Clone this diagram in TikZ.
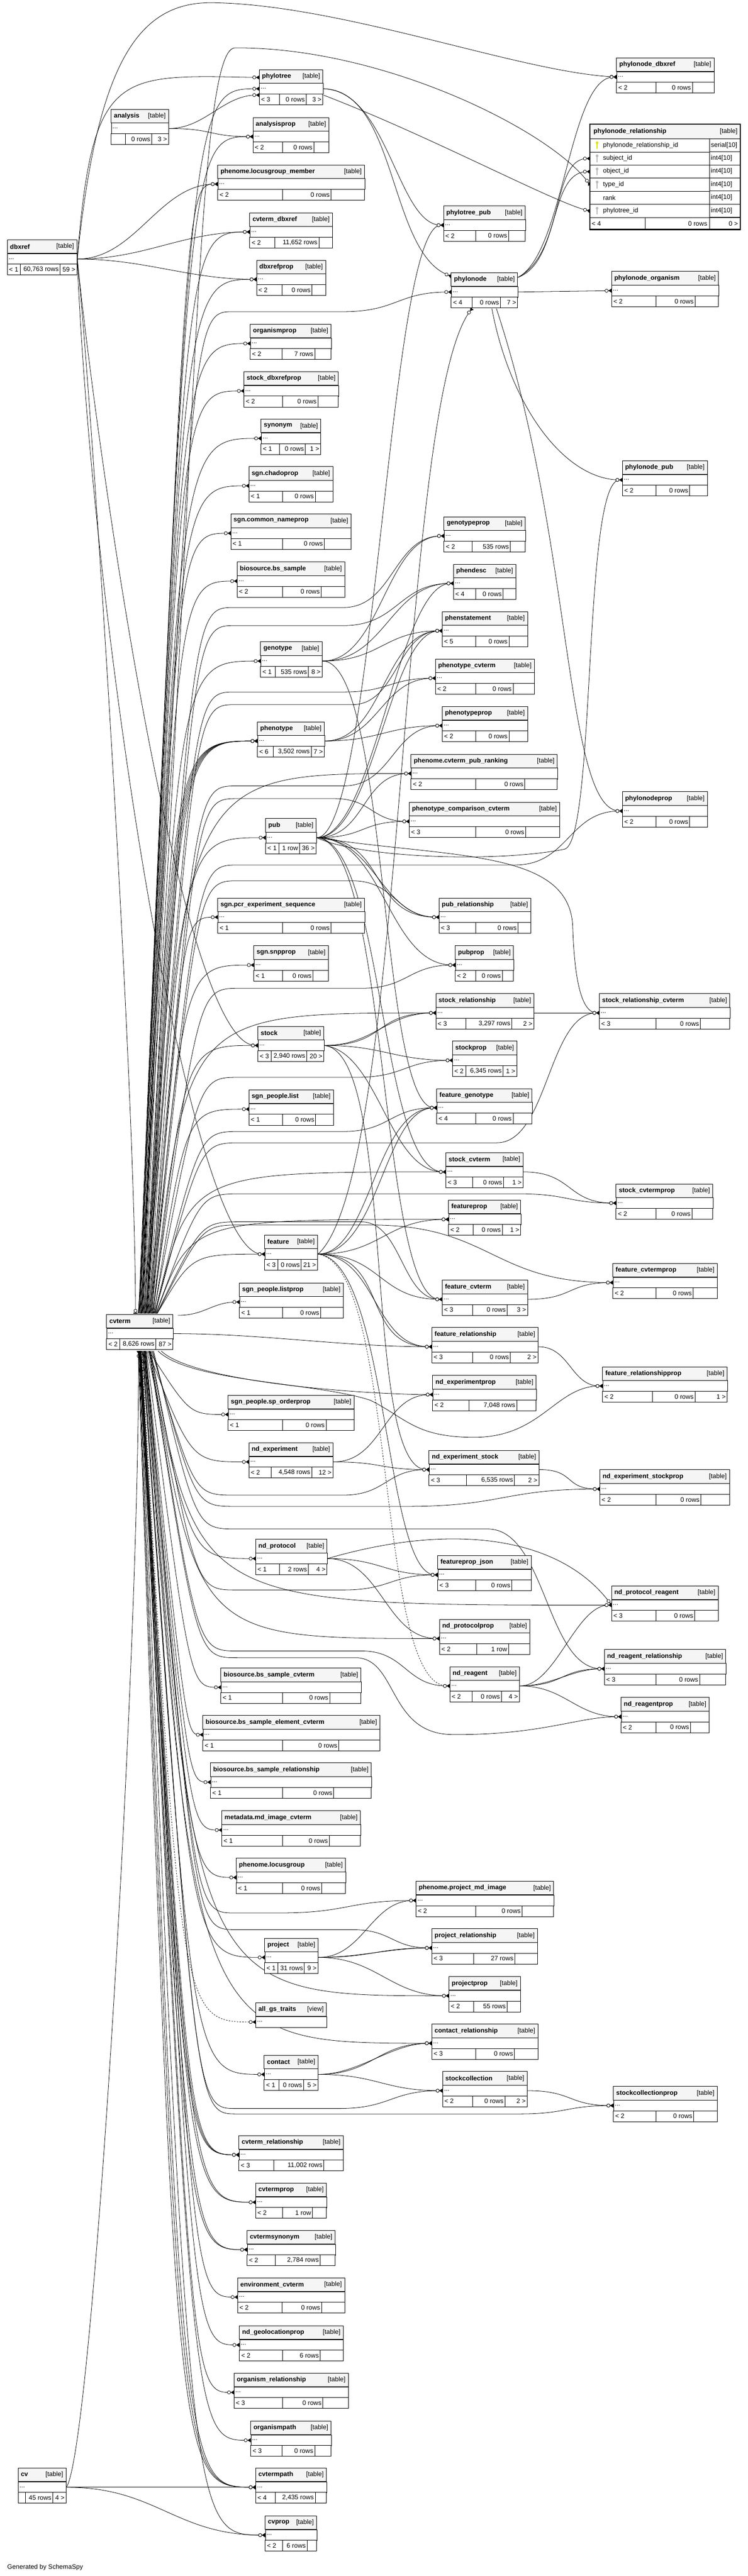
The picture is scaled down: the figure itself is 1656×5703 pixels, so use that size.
\documentclass[tikz,border=0pt]{standalone}
\usepackage{fontspec}
\setmainfont{Liberation Sans}
\usetikzlibrary{calc, arrows.meta}
\pgfdeclarelayer{bg}
\pgfsetlayers{bg,main}
\definecolor{hdrgrey}{RGB}{245,245,245}
\definecolor{pkkey}{RGB}{225,225,0}
\definecolor{fkkey}{RGB}{185,185,185}

% a table: [tag]{name}{title}{x1}{y1}{x2}, then its footer
\newcommand{\tbl}[6][table]{%
  \def\tblx{#4}\def\tbly{#5}\def\tblw{#6}%
  \draw[tblhdr] (#4,#5) rectangle (#6,#5+30);
  \node[tbltitle, anchor=west] at (#4+6,#5+15) {#3};
  \node[tbltext, anchor=east] at (#6-6,#5+15) {[#1]};
  \node[tblrow, minimum width={#6-#4}, anchor=north west] (#2) at (#4,#5+30) {};
  \node[tbltext, anchor=west] at (#4+3,#5+42) {...};
}
\newcommand{\tblfoot}[5]{%
  \draw[tblcell, fill=white] (\tblx,\tbly+54) rectangle (\tblw,\tbly+78);
  \draw[tblcell] (#1,\tbly+54) -- (#1,\tbly+78) (#2,\tbly+54) -- (#2,\tbly+78);
  \node[tbltext, anchor=west] at (\tblx+4,\tbly+66) {#3};
  \node[tbltext, anchor=east] at (#2-3,\tbly+66) {#4};
  \node[tbltext, anchor=east] at (\tblw-3,\tbly+66) {#5};
}
% cvterm edges: [opts]{base}{dx}{bundle x}{target}
\newcommand{\fkfan}[5][]{%
  \draw[fk,#1] ($(#2)+(#3,0)$) .. controls (#4,0 |- #5.west) and (#4,0 |- #5.west) .. (#5.west);}
% [opts]{base}{dx}{bundle x}{lane y}{s-bend x}{target}
\newcommand{\fklane}[7][]{%
  \draw[fk,#1] ($(#2)+(#3,0)$) .. controls (#4,#5) and (#4,#5) .. (#4+90,#5) -- (#6,#5)
    .. controls ($(#6,#5)!0.5!(#7.west |- 0,#5)$) and ($(#6,0 |- #7.west)!0.5!(#7.west)$) .. (#7.west);}

\begin{document}
\begin{tikzpicture}[x=1pt, y=-1pt,
  tblhdr/.style={draw, fill=hdrgrey, line width=1pt},
  tblrow/.style={draw, fill=white, line width=1pt, inner sep=0pt, minimum height=24pt},
  tblcell/.style={draw, line width=1pt},
  tbltitle/.style={font=\fontsize{14.3}{17}\selectfont\bfseries, inner sep=0pt},
  tbltext/.style={font=\fontsize{14.3}{17}\selectfont, inner sep=0pt},
  fk/.style={line width=0.9pt, -{Circle[fill=white,length=8pt,width=8pt,line width=0.9pt]Triangle[reversed,length=7pt,width=9pt]}},
  fkone/.style={line width=0.9pt, -{Circle[fill=white,length=8pt,width=8pt,line width=0.9pt]Bar[width=10pt,line width=2pt]}},
  sbend/.style={to path={.. controls +(#1,0) and +(-#1,0) .. (\tikztotarget)}}, sbend/.default=120]

\useasboundingbox (0,0) rectangle (1656,5703);

% tables, top to bottom
\tbl{phylonode-dbxref}{phylonode\_dbxref}{1365}{128}{1581}
\tblfoot{1453}{1533}{< 2}{0 rows}{}
\tbl{phylotree}{phylotree}{574}{154}{715}
\tblfoot{619}{678}{< 3}{0 rows}{3 >}
\tbl{analysis}{analysis}{246}{242}{373}
\tblfoot{278}{336}{}{0 rows}{3 >}
\tbl{analysisprop}{analysisprop}{560}{260}{728}
\tblfoot{625}{695}{< 2}{0 rows}{}
\tbl{locusgroup-member}{phenome.locusgroup\_member}{482}{365}{807}
\tblfoot{625}{733}{< 2}{0 rows}{}
\tbl{cvterm-dbxref}{cvterm\_dbxref}{553}{471}{736}
\tblfoot{608}{706}{< 2}{11,652 rows}{}
\tbl{phylotree-pub}{phylotree\_pub}{982}{456}{1163}
\tblfoot{1053}{1126}{< 2}{0 rows}{}
\tbl{dbxref}{dbxref}{16}{531}{170}
\tblfoot{45}{133}{< 1}{60,763 rows}{59 >}
\tbl{dbxrefprop}{dbxrefprop}{568}{576}{721}
\tblfoot{624}{691}{< 2}{0 rows}{}
\tbl{phylonode}{phylonode}{999}{604}{1146}
\tblfoot{1045}{1108}{< 4}{0 rows}{7 >}
\tbl{phylonode-organism}{phylonode\_organism}{1354}{601}{1591}
\tblfoot{1453}{1539}{< 2}{0 rows}{}
\tbl{organismprop}{organismprop}{554}{718}{733}
\tblfoot{624}{697}{< 2}{7 rows}{}
\tbl{stock-dbxrefprop}{stock\_dbxrefprop}{540}{823}{749}
\tblfoot{625}{704}{< 2}{0 rows}{}
\tbl{synonym}{synonym}{578}{928}{710}
\tblfoot{619}{676}{< 1}{0 rows}{1 >}
\tbl{chadoprop}{sgn.chadoprop}{551}{1033}{737}
\tblfoot{625}{698}{< 1}{0 rows}{}
\tbl{phylonode-pub}{phylonode\_pub}{1378}{1020}{1566}
\tblfoot{1453}{1527}{< 2}{0 rows}{}
\tbl{common-nameprop}{sgn.common\_nameprop}{511}{1138}{777}
\tblfoot{625}{718}{< 1}{0 rows}{}
\tbl{genotypeprop}{genotypeprop}{983}{1144}{1163}
\tblfoot{1045}{1130}{< 2}{535 rows}{}
\tbl{bs-sample}{biosource.bs\_sample}{525}{1244}{763}
\tblfoot{625}{711}{< 2}{0 rows}{}
\tbl{phendesc}{phendesc}{1004}{1249}{1142}
\tblfoot{1053}{1114}{< 4}{0 rows}{}
\tbl{phenstatement}{phenstatement}{979}{1354}{1168}
\tblfoot{1053}{1127}{< 5}{0 rows}{}
\tbl{genotype}{genotype}{577}{1421}{713}
\tblfoot{610}{683}{< 1}{535 rows}{8 >}
\tbl{phenotype-cvterm}{phenotype\_cvterm}{964}{1459}{1183}
\tblfoot{1053}{1136}{< 2}{0 rows}{}
\tbl{phenotypeprop}{phenotypeprop}{979}{1564}{1168}
\tblfoot{1053}{1127}{< 2}{0 rows}{}
\tbl{phenotype}{phenotype}{570}{1598}{718}
\tblfoot{605}{689}{< 6}{3,502 rows}{7 >}
\tbl{cvterm-pub-ranking}{phenome.cvterm\_pub\_ranking}{910}{1670}{1234}
\tblfoot{1053}{1162}{< 2}{0 rows}{}
\tbl{phylonodeprop}{phylonodeprop}{1378}{1753}{1566}
\tblfoot{1453}{1527}{< 2}{0 rows}{}
\tbl{phenotype-comparison-cvterm}{phenotype\_comparison\_cvterm}{906}{1776}{1239}
\tblfoot{1053}{1164}{< 3}{0 rows}{}
\tbl{pub}{pub}{588}{1812}{700}
\tblfoot{618}{663}{< 1}{1 row}{36 >}
\tbl{pcr-experiment-sequence}{sgn.pcr\_experiment\_sequence}{482}{1988}{807}
\tblfoot{625}{733}{< 1}{0 rows}{}
\tbl{pub-relationship}{pub\_relationship}{972}{1988}{1175}
\tblfoot{1053}{1147}{< 3}{0 rows}{}
\tbl{snpprop}{sgn.snpprop}{562}{2094}{727}
\tblfoot{625}{693}{< 1}{0 rows}{}
\tbl{pubprop}{pubprop}{1008}{2094}{1137}
\tblfoot{1053}{1112}{< 2}{0 rows}{}
\tbl{stock-relationship}{stock\_relationship}{965}{2200}{1182}
\tblfoot{1032}{1133}{< 3}{3,297 rows}{2 >}
\tbl{stock-relationship-cvterm}{stock\_relationship\_cvterm}{1327}{2200}{1616}
\tblfoot{1453}{1551}{< 3}{0 rows}{}
\tbl{stock}{stock}{571}{2272}{717}
\tblfoot{600}{679}{< 3}{2,940 rows}{20 >}
\tbl{stockprop}{stockprop}{1002}{2305}{1144}
\tblfoot{1032}{1114}{< 2}{6,345 rows}{1 >}
\tbl{people-list}{sgn\_people.list}{551}{2413}{738}
\tblfoot{625}{699}{< 1}{0 rows}{}
\tbl{feature-genotype}{feature\_genotype}{967}{2410}{1178}
\tblfoot{1053}{1136}{< 4}{0 rows}{}
\tbl{stock-cvterm}{stock\_cvterm}{987}{2552}{1158}
\tblfoot{1046}{1115}{< 3}{0 rows}{1 >}
\tbl{stock-cvtermprop}{stock\_cvtermprop}{1364}{2621}{1578}
\tblfoot{1453}{1532}{< 2}{0 rows}{}
\tbl{featureprop}{featureprop}{993}{2657}{1153}
\tblfoot{1048}{1112}{< 2}{0 rows}{1 >}
\tbl{feature}{feature}{586}{2734}{703}
\tblfoot{615}{667}{< 3}{0 rows}{21 >}
\tbl{feature-cvtermprop}{feature\_cvtermprop}{1357}{2797}{1588}
\tblfoot{1453}{1535}{< 2}{0 rows}{}
\tbl{people-listprop}{sgn\_people.listprop}{530}{2840}{760}
\tblfoot{625}{710}{< 1}{0 rows}{}
\tbl{feature-cvterm}{feature\_cvterm}{979}{2834}{1168}
\tblfoot{1046}{1123}{< 3}{0 rows}{3 >}
\tbl{cvterm}{cvterm}{236}{2910}{383}
\tblfoot{265}{345}{< 2}{8,626 rows}{87 >}
\tbl{feature-relationship}{feature\_relationship}{956}{2939}{1191}
\tblfoot{1046}{1130}{< 3}{0 rows}{2 >}
\tbl{feature-relationshipprop}{feature\_relationshipprop}{1334}{3026}{1610}
\tblfoot{1445}{1539}{< 2}{0 rows}{1 >}
\tbl{nd-experimentprop}{nd\_experimentprop}{958}{3045}{1187}
\tblfoot{1039}{1144}{< 2}{7,048 rows}{}
\tbl{sp-orderprop}{sgn\_people.sp\_orderprop}{505}{3089}{784}
\tblfoot{625}{722}{< 1}{0 rows}{}
\tbl{nd-experiment}{nd\_experiment}{551}{3194}{737}
\tblfoot{601}{690}{< 2}{4,548 rows}{12 >}
\tbl{nd-experiment-stock}{nd\_experiment\_stock}{950}{3211}{1193}
\tblfoot{1033}{1139}{< 3}{6,535 rows}{2 >}
\tbl{nd-experiment-stockprop}{nd\_experiment\_stockprop}{1328}{3254}{1615}
\tblfoot{1453}{1552}{< 2}{0 rows}{}
\tbl{nd-protocol}{nd\_protocol}{566}{3408}{724}
\tblfoot{619}{683}{< 1}{2 rows}{4 >}
\tbl{featureprop-json}{featureprop\_json}{969}{3444}{1176}
\tblfoot{1053}{1133}{< 3}{0 rows}{}
\tbl{nd-protocol-reagent}{nd\_protocol\_reagent}{1354}{3511}{1590}
\tblfoot{1453}{1538}{< 3}{0 rows}{}
\tbl{nd-protocolprop}{nd\_protocolprop}{973}{3585}{1173}
\tblfoot{1056}{1126}{< 2}{1 row}{}
\tbl{nd-reagent-relationship}{nd\_reagent\_relationship}{1338}{3652}{1607}
\tblfoot{1453}{1549}{< 3}{0 rows}{}
\tbl{nd-reagent}{nd\_reagent}{996}{3690}{1150}
\tblfoot{1045}{1110}{< 2}{0 rows}{4 >}
\tbl{bs-sample-cvterm}{biosource.bs\_sample\_cvterm}{489}{3693}{799}
\tblfoot{625}{730}{< 1}{0 rows}{}
\tbl{nd-reagentprop}{nd\_reagentprop}{1375}{3758}{1570}
\tblfoot{1453}{1529}{< 2}{0 rows}{}
\tbl{bs-sample-element-cvterm}{biosource.bs\_sample\_element\_cvterm}{449}{3798}{841}
\tblfoot{625}{750}{< 1}{0 rows}{}
\tbl{bs-sample-relationship}{biosource.bs\_sample\_relationship}{466}{3903}{822}
\tblfoot{625}{739}{< 1}{0 rows}{}
\tbl{md-image-cvterm}{metadata.md\_image\_cvterm}{491}{4009}{798}
\tblfoot{625}{729}{< 1}{0 rows}{}
\tbl{locusgroup}{phenome.locusgroup}{523}{4114}{765}
\tblfoot{625}{712}{< 1}{0 rows}{}
\tbl{project-md-image}{phenome.project\_md\_image}{921}{4165}{1226}
\tblfoot{1053}{1156}{< 2}{0 rows}{}
\tbl{project-relationship}{project\_relationship}{956}{4270}{1190}
\tblfoot{1049}{1140}{< 3}{27 rows}{}
\tbl{project}{project}{586}{4291}{704}
\tblfoot{615}{674}{< 1}{31 rows}{9 >}
\tbl{projectprop}{projectprop}{994}{4376}{1152}
\tblfoot{1049}{1123}{< 2}{55 rows}{}
\tbl[view]{all-gs-traits}{all\_gs\_traits}{566}{4434}{723}
\tbl{contact-relationship}{contact\_relationship}{956}{4481}{1191}
\tblfoot{1053}{1139}{< 3}{0 rows}{}
\tbl{contact}{contact}{585}{4550}{704}
\tblfoot{617}{672}{< 1}{0 rows}{5 >}
\tbl{stockcollection}{stockcollection}{980}{4586}{1167}
\tblfoot{1046}{1118}{< 2}{0 rows}{2 >}
\tbl{stockcollectionprop}{stockcollectionprop}{1358}{4619}{1588}
\tblfoot{1453}{1536}{< 2}{0 rows}{}
\tbl{cvterm-relationship}{cvterm\_relationship}{529}{4728}{760}
\tblfoot{606}{717}{< 3}{11,002 rows}{}
\tbl{cvtermprop}{cvtermprop}{566}{4833}{723}
\tblfoot{625}{692}{< 2}{1 row}{}
\tbl{cvtermsynonym}{cvtermsynonym}{547}{4938}{742}
\tblfoot{610}{709}{< 2}{2,784 rows}{}
\tbl{environment-cvterm}{environment\_cvterm}{526}{5043}{763}
\tblfoot{624}{712}{< 2}{0 rows}{}
\tbl{nd-geolocationprop}{nd\_geolocationprop}{530}{5149}{760}
\tblfoot{625}{709}{< 2}{6 rows}{}
\tbl{organism-relationship}{organism\_relationship}{518}{5254}{771}
\tblfoot{625}{715}{< 3}{0 rows}{}
\tbl{organismpath}{organismpath}{555}{5360}{733}
\tblfoot{624}{697}{< 3}{0 rows}{}
\tbl{cv}{cv}{40}{5464}{146}
\tblfoot{56}{117}{}{45 rows}{4 >}
\tbl{cvtermpath}{cvtermpath}{566}{5464}{723}
\tblfoot{610}{698}{< 4}{2,435 rows}{}
\tbl{cvprop}{cvprop}{587}{5570}{701}
\tblfoot{625}{680}{< 2}{6 rows}{}

% phylonode_relationship, shown with its columns
\draw[tblhdr] (1306,275) rectangle (1639,307);
\node[tbltitle, anchor=west] at (1314,291) {phylonode\_relationship};
\node[tbltext, anchor=east] at (1633,291) {[table]};
\foreach \i/\nm/\col/\typ in {0/prel-id/phylonode\_relationship\_id/serial[10],
    1/prel-subject/subject\_id/int4[10], 2/prel-object/object\_id/int4[10],
    3/prel-type/type\_id/int4[10], 4/prel-rank/rank/int4[10], 5/prel-tree/phylotree\_id/int4[10]}{
  \node[tblrow, minimum width=265, minimum height=29, anchor=north west] (\nm) at (1306,307+29*\i) {};
  \draw[tblcell, fill=white] (1571,307+29*\i) rectangle (1639,336+29*\i);
  \node[tbltext, anchor=west] at (1335,321.5+29*\i) {\col};
  \node[tbltext, anchor=west] at (1574,321.5+29*\i) {\typ};
}
\foreach \i/\c in {0/pkkey,1/fkkey,2/fkkey,3/fkkey,5/fkkey}{
  \fill[\c] (1322,316+29*\i) circle (3);
  \draw[\c, line width=1.6pt] (1322,318+29*\i) -- (1322,330+29*\i);
}
\draw[tblcell, fill=white] (1306,482) rectangle (1639,508);
\draw[tblcell] (1429,482) -- (1429,508) (1571,482) -- (1571,508);
\node[tbltext, anchor=west] at (1310,495) {< 4};
\node[tbltext, anchor=east] at (1566,495) {0 rows};
\node[tbltext, anchor=east] at (1634,495) {0 >};
\draw[line width=3pt] (1306,275) rectangle (1639,508);

\node[tbltext, anchor=west] (credit) at (16,5684) {Generated by SchemaSpy};

\coordinate (cvterm-top) at ($(cvterm.north west)+(0,-32)$);
\coordinate (cvterm-bot) at ($(cvterm.south west)+(0,26)$);

\begin{pgfonlayer}{bg}
\fill[white] (0,0) rectangle (1656,5703);
% edges from dbxref
\draw[fk] (dbxref.east) .. controls (215,150) and (300,4) .. (470,6) .. controls (760,10) and (1150,160) .. (phylonode-dbxref.west);
\draw[fk] (dbxref.east) .. controls (205,150) and (260,166) .. ($(phylotree.west)+(0,-25)$);
\draw[fk] (dbxref.east) to[sbend=130] (locusgroup-member.west);
\draw[fk] (dbxref.east) to[sbend=150] (cvterm-dbxref.west);
\draw[fk] (dbxref.east) to[sbend=150] (dbxrefprop.west);
\draw[fkone] (dbxref.east) .. controls (205,900) and (300,2400) .. ($(cvterm-top)+(64,0)$);
\draw[fk] (dbxref.east) .. controls (215,1000) and (400,2314) .. (stock.west);
\draw[fk] (dbxref.east) .. controls (205,1400) and (420,2776) .. (feature.west);

% edges from analysis, phylotree, phylonode
\draw[fk] (analysis.east) to[sbend=80] ($(phylotree.west)+(0,14)$);
\draw[fk] (analysis.east) to[sbend=100] (analysisprop.west);
\draw[fk] (phylotree.east) .. controls (880,200) and (860,560) .. ($(phylonode.west)+(0,-35)$);
\draw[fk] (phylotree.east) .. controls (860,200) and (880,498) .. (phylotree-pub.west);
\draw[fk] ($(phylotree.east)+(0,14)$) .. controls (950,300) and (1230,450) .. (prel-tree.west);
\draw[fk] ($(phylonode.north east)+(0,-20)$) .. controls (1250,560) and (1260,170) .. (phylonode-dbxref.west);
\draw[fk] ($(phylonode.north east)+(0,-20)$) .. controls (1250,560) and (1220,351) .. (prel-subject.west);
\draw[fk] ($(phylonode.north east)+(0,-20)$) .. controls (1240,580) and (1215,380) .. (prel-object.west);
\draw[fk] (phylonode.east) -- (phylonode-organism.west);
\draw[fk] ($(phylonode.south)+(16,24)$) .. controls (1130,900) and (1250,1062) .. (phylonode-pub.west);
\draw[fk] ($(phylonode.south)+(26,24)$) .. controls (1270,1200) and (1250,1795) .. (phylonodeprop.west);
\draw[fk] (feature.east) .. controls (900,2600) and (880,900) .. ($(phylonode.south)+(-28,24)$);

% edges from pub
\draw[fk] (pub.east) .. controls (830,1854) and (860,498) .. (phylotree-pub.west);
\draw[fk] (pub.east) .. controls (800,1900) and (1100,1910) .. (1250,1880) .. controls (1320,1860) and (1290,1062) .. (phylonode-pub.west);
\draw[fk] (pub.east) .. controls (830,1854) and (880,1291) .. (phendesc.west);
\draw[fk] (pub.east) .. controls (830,1854) and (860,1396) .. (phenstatement.west);
\draw[fk] (pub.east) to[sbend=110] (cvterm-pub-ranking.west);
\draw[fk] (pub.east) to[sbend=110] (phenotype-comparison-cvterm.west);
\draw[fk] (pub.east) to[sbend=130] (pub-relationship.west);
\draw[fk] (pub.east) to[sbend=160] (pub-relationship.west);
\draw[fk] (pub.east) to[sbend=150] (pubprop.west);
\draw[fk] (pub.east) .. controls (1000,1900) and (1260,1880) .. (1268,2050) .. controls (1272,2180) and (1290,2242) .. (stock-relationship-cvterm.west);
\draw[fk] (pub.east) .. controls (850,1860) and (840,2594) .. (stock-cvterm.west);
\draw[fk] (pub.east) .. controls (860,1860) and (840,2876) .. (feature-cvterm.west);

% edges from genotype, phenotype
\draw[fk] (genotype.east) to[sbend=130] (genotypeprop.west);
\draw[fk] (genotype.east) to[sbend=140] (phendesc.west);
\draw[fk] (genotype.east) to[sbend=130] (phenstatement.west);
\draw[fk] (genotype.east) .. controls (860,1463) and (840,2452) .. (feature-genotype.west);
\draw[fk] (phenotype.east) to[sbend=130] (phenstatement.west);
\draw[fk] (phenotype.east) to[sbend=120] (phenotype-cvterm.west);
\draw[fk] (phenotype.east) to[sbend=120] (phenotypeprop.west);

% edges from stock, feature
\draw[fk] (stock.east) to[sbend=110] (stock-relationship.west);
\draw[fk] (stock.east) to[sbend=140] (stock-relationship.west);
\draw[fk] (stock.east) to[sbend=130] (stockprop.west);
\draw[fk] (stock.east) .. controls (840,2330) and (860,2594) .. (stock-cvterm.west);
\draw[fk] (stock.east) .. controls (880,2330) and (800,3253) .. (nd-experiment-stock.west);
\draw[fk] (stock-relationship.east) -- (stock-relationship-cvterm.west);
\draw[fk] (stock-cvterm.east) to[sbend=110] (stock-cvtermprop.west);
\draw[fk] (feature.east) .. controls (840,2776) and (850,2452) .. (feature-genotype.west);
\draw[fk] (feature.east) .. controls (820,2776) and (830,2452) .. (feature-genotype.west);
\draw[fk] (feature.east) to[sbend=140] (featureprop.west);
\draw[fk] (feature.east) to[sbend=140] (feature-cvterm.west);
\draw[fk] (feature.east) to[sbend=130] (feature-relationship.west);
\draw[fk] (feature.east) to[sbend=160] (feature-relationship.west);
\draw[fk] (feature.east) .. controls (860,2790) and (850,3486) .. (featureprop-json.west);
\draw[fk, dashed] (feature.east) .. controls (880,2800) and (830,3732) .. (nd-reagent.west);
\draw[fk] (feature-cvterm.east) to[sbend=100] (feature-cvtermprop.west);
\draw[fk] (feature-relationship.east) to[sbend=70] (feature-relationshipprop.west);

% edges from nd_experiment, nd_protocol, nd_reagent
\draw[fk] (nd-experiment.east) to[sbend=110] (nd-experimentprop.west);
\draw[fk] (nd-experiment.east) to[sbend=110] (nd-experiment-stock.west);
\draw[fk] (nd-experiment-stock.east) to[sbend=80] (nd-experiment-stockprop.west);
\draw[fk] (nd-protocol.east) to[sbend=120] (featureprop-json.west);
\draw[fk] (nd-protocol.east) to[sbend=120] (nd-protocolprop.west);
\draw[fk] (nd-protocol.east) .. controls (1000,3370) and (1240,3400) .. (nd-protocol-reagent.west);
\draw[fk] (nd-reagent.east) to[sbend=80] (nd-protocol-reagent.west);
\draw[fk] (nd-reagent.east) to[sbend=70] (nd-reagent-relationship.west);
\draw[fk] (nd-reagent.east) to[sbend=100] (nd-reagent-relationship.west);
\draw[fk] (nd-reagent.east) to[sbend=100] (nd-reagentprop.west);

% edges from project, contact
\draw[fk] (project.east) to[sbend=100] (project-md-image.west);
\draw[fk] (project.east) to[sbend=90] (project-relationship.west);
\draw[fk] (project.east) to[sbend=120] (project-relationship.west);
\draw[fk] (project.east) to[sbend=130] (projectprop.west);
\draw[fk] (contact.east) to[sbend=90] (contact-relationship.west);
\draw[fk] (contact.east) to[sbend=120] (contact-relationship.west);
\draw[fk] (contact.east) to[sbend=130] (stockcollection.west);
\draw[fk] (stockcollection.east) to[sbend=100] (stockcollectionprop.west);

% edges from cv
\draw[fk] (cv.east) .. controls (205,5420) and (307,3700) .. ($(cvterm-bot)+(71,0)$);
\draw[fk] (cv.east) -- (cvtermpath.west);
\draw[fk] (cv.east) to[sbend=200] (cvprop.west);

% edges from cvterm, going up
\draw[fk] ($(cvterm-top)+(70,0)$) .. controls (435,1200) and (428,108) .. (520,106) .. controls (850,104) and (1220,290) .. (prel-type.west);
\fkfan{cvterm-top}{71}{420}{phylotree}
\fkfan{cvterm-top}{72}{416}{analysisprop}
\fkfan{cvterm-top}{73}{412}{locusgroup-member}
\fkfan{cvterm-top}{74}{408}{cvterm-dbxref}
\fkfan{cvterm-top}{75}{404}{dbxrefprop}
\fklane{cvterm-top}{76}{426}{690}{760}{phylonode}
\fkfan{cvterm-top}{77}{400}{organismprop}
\fkfan{cvterm-top}{78}{398}{stock-dbxrefprop}
\fkfan{cvterm-top}{79}{396}{synonym}
\fkfan{cvterm-top}{80}{394}{chadoprop}
\fkfan{cvterm-top}{81}{392}{common-nameprop}
\fklane{cvterm-top}{82}{428}{1345}{760}{genotypeprop}
\fkfan{cvterm-top}{83}{392}{bs-sample}
\fklane{cvterm-top}{84}{430}{1385}{760}{phendesc}
\fkfan{cvterm-top}{85}{395}{genotype}
\fklane{cvterm-top}{86}{430}{1532}{760}{phenotype-cvterm}
\fklane{cvterm-top}{87}{432}{1560}{780}{phenstatement}
\foreach \d/\b in {88/384,89/388,90/392,91/396,92/400}{\fkfan{cvterm-top}{\d}{\b}{phenotype}}
\fklane{cvterm-top}{93}{434}{1740}{760}{phenotypeprop}
\fkfan{cvterm-top}{94}{405}{cvterm-pub-ranking}
\fklane{cvterm-top}{95}{436}{1768}{740}{phenotype-comparison-cvterm}
\fklane{cvterm-top}{96}{438}{1915}{1140}{phylonodeprop}
\fkfan{cvterm-top}{97}{405}{pub}
\fklane{cvterm-top}{98}{438}{1950}{780}{pub-relationship}
\fkfan{cvterm-top}{99}{405}{pcr-experiment-sequence}
\fkfan{cvterm-top}{100}{408}{snpprop}
\fklane{cvterm-top}{101}{440}{2188}{800}{pubprop}
\fkfan{cvterm-top}{102}{412}{stock-relationship}
\fkfan{cvterm-top}{103}{410}{stock}
\fklane{cvterm-top}{104}{440}{2385}{790}{stockprop}
\fkfan{cvterm-top}{105}{412}{people-list}
\fklane{cvterm-top}{106}{442}{2505}{760}{feature-genotype}
\fklane{cvterm-top}{107}{444}{2530}{1100}{stock-relationship-cvterm}
\fkfan{cvterm-top}{108}{418}{stock-cvterm}
\fklane{cvterm-top}{109}{444}{2643}{1150}{stock-cvtermprop}
\fkfan{cvterm-top}{110}{422}{featureprop}
\fklane{cvterm-top}{111}{446}{2705}{800}{feature-cvterm}
\fklane{cvterm-top}{112}{448}{2712}{820}{feature-cvtermprop}
\fkfan{cvterm-top}{112}{425}{feature}
\draw[fk] ($(cvterm.north east)+(10,-28)$) to[sbend=60] (people-listprop.west);

% edges from cvterm, going down
\draw[fk] (cvterm.east) to[sbend=200] (feature-relationship.west);
\draw[fk] ($(cvterm-bot)+(121,0)$) .. controls (430,3060) and (800,3087) .. (nd-experimentprop.west);
\draw[fk] ($(cvterm-bot)+(114,0)$) .. controls (420,3060) and (700,3060) .. (820,3100) .. controls (900,3140) and (920,3182) .. (1050,3182) .. controls (1200,3182) and (1230,3068) .. (feature-relationshipprop.west);
\fkfan{cvterm-bot}{94}{420}{sp-orderprop}
\fkfan{cvterm-bot}{92}{424}{nd-experiment}
\fklane{cvterm-bot}{100}{430}{3310}{760}{nd-experiment-stock}
\fklane{cvterm-bot}{102}{432}{3335}{900}{nd-experiment-stockprop}
\fklane{cvterm-bot}{104}{434}{3385}{1080}{nd-reagent-relationship}
\fkfan{cvterm-bot}{90}{424}{nd-protocol}
\fklane{cvterm-bot}{98}{434}{3520}{760}{featureprop-json}
\fkfan{cvterm-bot}{97}{436}{nd-protocol-reagent}
\fkfan{cvterm-bot}{96}{436}{nd-protocolprop}
\fklane{cvterm-bot}{95}{436}{3655}{800}{nd-reagent}
\draw[fk] ($(cvterm-bot)+(94,0)$) .. controls (436,3670) and (436,3670) .. (526,3670) -- (790,3670) .. controls (880,3674) and (860,3838) .. (1000,3840) .. controls (1200,3842) and (1280,3800) .. (nd-reagentprop.west);
\fkfan{cvterm-bot}{88}{420}{bs-sample-cvterm}
\fkfan{cvterm-bot}{86}{412}{bs-sample-element-cvterm}
\fkfan{cvterm-bot}{85}{416}{bs-sample-relationship}
\fkfan{cvterm-bot}{84}{420}{md-image-cvterm}
\fkfan{cvterm-bot}{83}{422}{locusgroup}
\fklane{cvterm-bot}{86}{430}{4235}{620}{project-md-image}
\fklane{cvterm-bot}{87}{432}{4272}{780}{project-relationship}
\fkfan{cvterm-bot}{82}{424}{project}
\fkfan{cvterm-bot}{84}{430}{projectprop}
\fkfan[dashed]{cvterm-bot}{78}{400}{all-gs-traits}
\fkfan{cvterm-bot}{83}{430}{contact-relationship}
\fkfan{cvterm-bot}{80}{424}{contact}
\fklane{cvterm-bot}{81}{432}{4668}{750}{stockcollection}
\fklane{cvterm-bot}{79}{434}{4680}{1150}{stockcollectionprop}
\foreach \d/\b in {74/408,75/412,76/416}{\fkfan{cvterm-bot}{\d}{\b}{cvterm-relationship}}
\foreach \d/\b in {73/414,74/420}{\fkfan{cvterm-bot}{\d}{\b}{cvtermprop}}
\foreach \d/\b in {72/412,73/418}{\fkfan{cvterm-bot}{\d}{\b}{cvtermsynonym}}
\fkfan{cvterm-bot}{77}{426}{environment-cvterm}
\fkfan{cvterm-bot}{76}{426}{nd-geolocationprop}
\fkfan{cvterm-bot}{75}{424}{organism-relationship}
\fkfan{cvterm-bot}{74}{426}{organismpath}
\foreach \d/\b in {70/392,71/398,72/404}{\fkfan{cvterm-bot}{\d}{\b}{cvtermpath}}
\fkfan{cvterm-bot}{73}{420}{cvprop}
\end{pgfonlayer}

\end{tikzpicture}
\end{document}
